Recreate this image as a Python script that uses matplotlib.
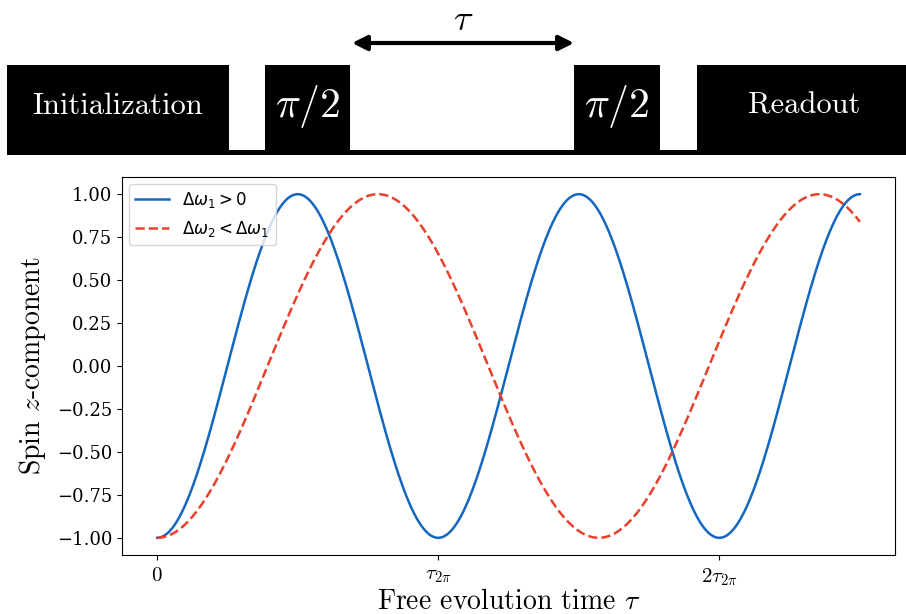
import numpy as np
import matplotlib
matplotlib.use("Agg")
import matplotlib.pyplot as plt
from matplotlib.patches import Rectangle
from matplotlib.font_manager import FontProperties

# ---------------- data ----------------
# Ramsey signal: S_z(tau) = -cos(delta_omega * tau), tau in units of tau_2pi
delta_omega_1 = 2 * np.pi      # rad per tau_2pi (blue)
delta_omega_2 = 4.0            # rad per tau_2pi (red, smaller detuning)
tau_max = 2.5
n_samples = 600
legend_labels = [r"$\Delta\omega_1 > 0$", r"$\Delta\omega_2 < \Delta\omega_1$"]
xtick_values = [0, 1, 2]
xtick_labels = ["$0$", r"$\tau_{2\pi}$", r"$2\tau_{2\pi}$"]
ytick_values = [-1.0, -0.75, -0.5, -0.25, 0.0, 0.25, 0.5, 0.75, 1.0]

# pulse sequence (pixel units of the top panel)
pulse_names = ["Initialization", r"$\pi/2$", r"$\pi/2$", "Readout"]
pulse_starts = [7, 265, 574, 697]
pulse_ends = [229, 350, 660, 906]

blue = "#1467C0"
red = "#E8402A"

plt.rcParams["font.family"] = "serif"
plt.rcParams["font.serif"] = ["DejaVu Serif"]
plt.rcParams["mathtext.fontset"] = "cm"
plt.rcParams["axes.unicode_minus"] = True

W, H = 906, 614
fig = plt.figure(figsize=(W / 100, H / 100), dpi=100)

# ---------------- top schematic ----------------
top_h = 165
axd = fig.add_axes([0, 1 - top_h / H, 1, top_h / H])
axd.set_xlim(0, W)
axd.set_ylim(top_h, 0)
axd.axis("off")
axd.add_patch(Rectangle((7, 150), W - 7, 5, color="black", lw=0))
word_fp = FontProperties(family="cmr10", size=22, math_fontfamily="cm")
math_fp = FontProperties(family="cmr10", size=30, math_fontfamily="cm")
for name, s, e in zip(pulse_names, pulse_starts, pulse_ends):
    axd.add_patch(Rectangle((s, 65), e - s, 90, color="black", lw=0))
    is_math = name.startswith("$")
    axd.text((s + e) / 2 + (3 if name == "Readout" else 0), 107 if is_math else 106, name,
             color="white", ha="center", va="center",
             fontproperties=math_fp if is_math else word_fp)
axd.annotate("", xy=(352, 43), xytext=(574, 43),
             arrowprops=dict(arrowstyle="<|-|>", lw=3, color="black",
                             mutation_scale=22, shrinkA=0, shrinkB=0))
axd.text(463, 20, r"$\tau$", ha="center", va="center",
         fontproperties=FontProperties(size=26, math_fontfamily="cm"))

# ---------------- main plot ----------------
left, right, top, bottom = 122, 895, 177, 555
ax = fig.add_axes([left / W, 1 - bottom / H, (right - left) / W, (bottom - top) / H])
tau = np.linspace(0, tau_max, n_samples)
sz1 = -np.cos(delta_omega_1 * tau)
sz2 = -np.cos(delta_omega_2 * tau)
ax.plot(tau, sz1, color=blue, lw=1.8, label=legend_labels[0])
ax.plot(tau, sz2, color=red, lw=1.8, ls="--", label=legend_labels[1])

ax.set_xticks(xtick_values)
ax.set_xticklabels(xtick_labels, fontproperties=FontProperties(family="cmr10", size=15, math_fontfamily="cm"))
ax.set_yticks(ytick_values)
ax.set_yticklabels([f"{v:.2f}".replace("-", "\u2212") for v in ytick_values], fontsize=13)
ax.tick_params(axis="x", pad=5)

label_fp = FontProperties(family="cmr10", size=20, math_fontfamily="cm")
ax.set_xlabel(r"Free evolution time $\tau$", fontproperties=label_fp, labelpad=0)
ax.set_ylabel(r"Spin $z$-component", fontproperties=label_fp, labelpad=6)

leg = ax.legend(loc="upper left", prop=FontProperties(family="DejaVu Sans", size=12,
                                                      math_fontfamily="dejavusans"),
                handlelength=2.0, borderaxespad=0.4)

fig.savefig("out.png", dpi=100)
